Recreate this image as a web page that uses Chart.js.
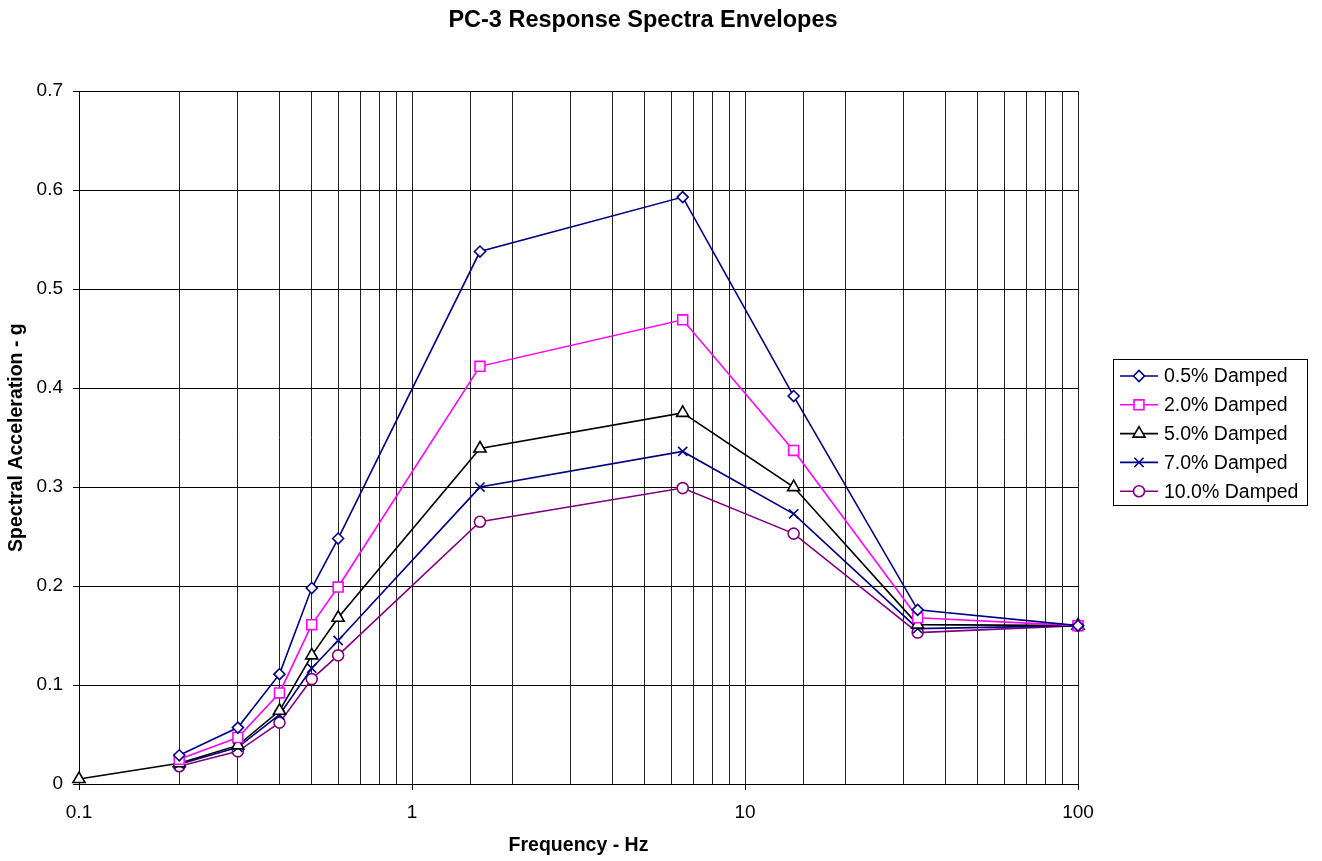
<!DOCTYPE html>
<html lang="en">
<head>
<meta charset="UTF-8">
<title>PC-3 Response Spectra Envelopes</title>
<script src="https://cdn.jsdelivr.net/npm/chart.js"></script>
<style>
    body { margin: 0; background: #fff; }
    #wrap { width: 1322px; height: 861px; }
</style>
</head>
<body>
<div id="wrap"><canvas id="spectra"></canvas></div>

<script>
    // frequencies (Hz)
    var freqs = [0.2, 0.3, 0.4, 0.5, 0.6, 1.6, 6.5, 14, 33, 100];
    var freqs5 = [0.1, 0.2, 0.3, 0.4, 0.5, 0.6, 1.6, 6.5, 14, 33, 100]; // 5% has an extra point at 0.1 Hz

    var damp05 = [0.029, 0.057, 0.111, 0.198, 0.248, 0.538, 0.593, 0.392, 0.176, 0.160];
    var damp20 = [0.025, 0.047, 0.092, 0.161, 0.199, 0.422, 0.469, 0.337, 0.168, 0.160];
    var damp50 = [0.005, 0.021, 0.039, 0.074, 0.130, 0.168, 0.339, 0.375, 0.300, 0.161, 0.160];
    var damp70 = [0.020, 0.037, 0.070, 0.117, 0.145, 0.300, 0.336, 0.273, 0.157, 0.160];
    var damp100 = [0.018, 0.033, 0.062, 0.106, 0.130, 0.265, 0.299, 0.253, 0.153, 0.160];

    var seriesLabels = ['0.5% Damped', '2.0% Damped', '5.0% Damped', '7.0% Damped', '10.0% Damped'];
    var yTicks = [0, 0.1, 0.2, 0.3, 0.4, 0.5, 0.6, 0.7];

    var FONT = '"Liberation Sans", Arial, sans-serif';

    function pts(xs, ys) {
        return xs.map(function(x, i) { return { x: x, y: ys[i] }; });
    }

    function isDecade(v) {
        var l = Math.log10(v);
        return Math.abs(l - Math.round(l)) < 1e-6;
    }

    function series(label, data, color, style, radius) {
        return {
            label: label,
            data: data,
            borderColor: color,
            backgroundColor: '#ffffff',
            borderWidth: 1.6,
            pointStyle: style,
            pointRadius: radius,
            pointBorderWidth: 1.6,
            pointBorderColor: color,
            pointBackgroundColor: '#ffffff',
            tension: 0,
            clip: false
        };
    }

    // centre the title over the whole figure (minus the legend margin), not just the plot
    var titleSpan = {
        id: 'titleSpan',
        afterLayout: function(chart) {
            var tb = chart.titleBlock;
            if (!tb) return;
            tb.left = 0;
            tb.right = 1286;
            tb.width = 1286;
        }
    };

    // legend box drawn by hand so each entry shows a line with its marker
    var boxLegend = {
        id: 'boxLegend',
        afterDraw: function(chart) {
            var ctx = chart.ctx;
            var left = 1113.5, top = 359.5, w = 194, h = 146;
            ctx.save();
            ctx.strokeStyle = '#000';
            ctx.lineWidth = 1;
            ctx.strokeRect(left, top, w, h);
            ctx.font = '19.5px ' + FONT;
            ctx.textBaseline = 'middle';
            chart.data.datasets.forEach(function(ds, i) {
                var y = 376 + i * 28.8;
                ctx.strokeStyle = ds.borderColor;
                ctx.lineWidth = 1.6;
                ctx.beginPath();
                ctx.moveTo(1120, y);
                ctx.lineTo(1158, y);
                ctx.stroke();
                ctx.fillStyle = '#ffffff';
                Chart.helpers.drawPoint(ctx, {
                    pointStyle: ds.pointStyle,
                    radius: ds.pointRadius,
                    rotation: 0,
                    borderWidth: 1.6
                }, 1139, y);
                ctx.fillStyle = '#000';
                ctx.fillText(ds.label, 1164, y + 1);
            });
            ctx.restore();
        }
    };

    var ctx = document.getElementById('spectra').getContext('2d');
    new Chart(ctx, {
        type: 'line',
        data: {
            datasets: [
                series(seriesLabels[0], pts(freqs, damp05), '#000080', 'rectRot', 5.5),
                series(seriesLabels[1], pts(freqs, damp20), '#ff00ff', 'rect', 7),
                series(seriesLabels[2], pts(freqs5, damp50), '#000000', 'triangle', 7),
                series(seriesLabels[3], pts(freqs, damp70), '#000080', 'crossRot', 6.5),
                series(seriesLabels[4], pts(freqs, damp100), '#800080', 'circle', 5.5)
            ]
        },
        options: {
            responsive: true,
            maintainAspectRatio: false,
            animation: false,
            layout: { padding: { left: 0, right: 244, top: 0, bottom: 0 } },
            scales: {
                x: {
                    type: 'logarithmic',
                    min: 0.1,
                    max: 100,
                    afterFit: function(s) { s.height = 77; },
                    grid: {
                        color: '#222',
                        lineWidth: 1,
                        tickLength: 6,
                        tickColor: function(c) { return c.tick && isDecade(c.tick.value) ? '#000' : 'rgba(0,0,0,0)'; }
                    },
                    border: { color: '#000', width: 1 },
                    ticks: {
                        autoSkip: false,
                        maxRotation: 0,
                        color: '#000',
                        padding: 11,
                        font: { family: FONT, size: 19 },
                        callback: function(v) { return isDecade(v) ? String(Number(v.toPrecision(3))) : ''; }
                    },
                    title: {
                        display: true,
                        text: 'Frequency - Hz',
                        color: '#000',
                        padding: { top: 4, bottom: 4 },
                        font: { family: FONT, size: 19.5, weight: 'bold' }
                    }
                },
                y: {
                    min: 0,
                    max: 0.7,
                    afterFit: function(s) { s.width = 79; },
                    afterBuildTicks: function(s) { s.ticks = yTicks.map(function(v) { return { value: v }; }); },
                    grid: { color: '#000', lineWidth: 1, tickLength: 6 },
                    border: { color: '#000', width: 1 },
                    ticks: {
                        color: '#000',
                        padding: 10,
                        font: { family: FONT, size: 19 },
                        callback: function(v) { return String(Number(v.toFixed(1))); }
                    },
                    title: {
                        display: true,
                        text: 'Spectral Acceleration - g',
                        color: '#000',
                        padding: { top: 5, bottom: 0 },
                        font: { family: FONT, size: 19.5, weight: 'bold' }
                    }
                }
            },
            plugins: {
                legend: { display: false },
                tooltip: { enabled: false },
                title: {
                    display: true,
                    text: 'PC-3 Response Spectra Envelopes',
                    color: '#000',
                    padding: { top: 6, bottom: 57 },
                    font: { family: FONT, size: 23.5, weight: 'bold' }
                }
            }
        },
        plugins: [titleSpan, boxLegend]
    });
</script>
</body>
</html>
